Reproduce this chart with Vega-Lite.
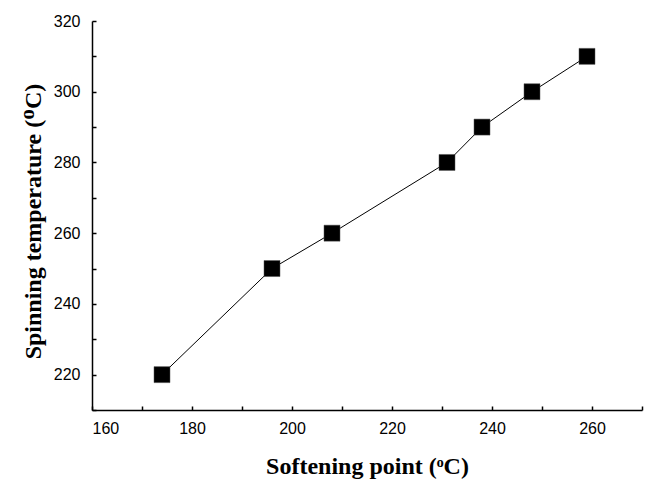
{
  "$schema": "https://vega.github.io/schema/vega-lite/v6.json",
  "width": 550,
  "height": 389,
  "autosize": {"type": "none"},
  "padding": {"left": 92, "top": 21, "right": 3, "bottom": 71},
  "background": "white",
  "config": {
    "view": {"stroke": null},
    "axis": {
      "grid": false,
      "domainColor": "black",
      "domainWidth": 1.5,
      "tickColor": "black",
      "tickWidth": 1.5,
      "labelFont": "Liberation Sans",
      "labelFontSize": 16,
      "labelColor": "black",
      "titleFont": "Liberation Serif",
      "titleFontSize": 24,
      "titleFontWeight": "bold",
      "titleColor": "black"
    }
  },
  "data": {
    "values": [
      {"softening": 174, "spinning": 220},
      {"softening": 196, "spinning": 250},
      {"softening": 208, "spinning": 260},
      {"softening": 231, "spinning": 280},
      {"softening": 238, "spinning": 290},
      {"softening": 248, "spinning": 300},
      {"softening": 259, "spinning": 310}
    ]
  },
  "encoding": {
    "x": {
      "field": "softening",
      "type": "quantitative",
      "scale": {"domain": [160, 270], "nice": false, "zero": false},
      "axis": {
        "title": "Softening point (ᵒC)",
        "values": [160, 170, 180, 190, 200, 210, 220, 230, 240, 250, 260, 270],
        "labelExpr": "datum.value % 20 === 0 ? datum.label : ''",
        "tickSize": -4,
        "labelPadding": 14,
        "titlePadding": 18
      }
    },
    "y": {
      "field": "spinning",
      "type": "quantitative",
      "scale": {"domain": [210, 320], "nice": false, "zero": false},
      "axis": {
        "title": "Spinning temperature (ᴼC)",
        "values": [210, 220, 230, 240, 250, 260, 270, 280, 290, 300, 310, 320],
        "labelExpr": "datum.value % 20 === 0 ? datum.label : ''",
        "tickSize": -4,
        "labelPadding": 16,
        "titlePadding": 8,
        "titleY": 200
      }
    }
  },
  "layer": [
    {"mark": {"type": "line", "color": "black", "strokeWidth": 1}},
    {"mark": {"type": "point", "shape": "square", "filled": true, "size": 256, "color": "black", "opacity": 1, "stroke": "#555", "strokeWidth": 0.5}}
  ]
}
